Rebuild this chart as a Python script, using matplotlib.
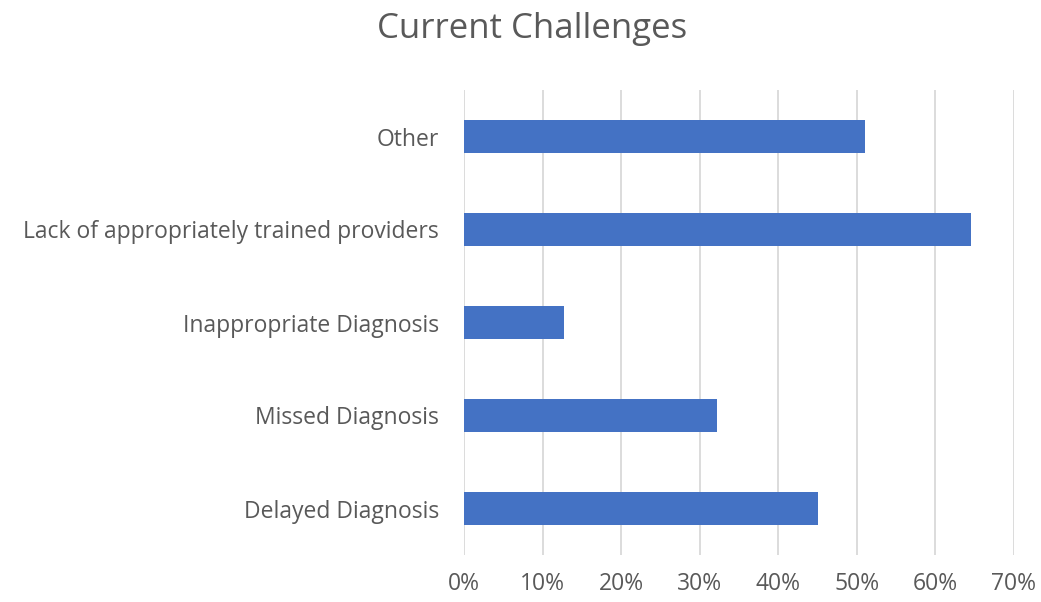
import matplotlib
matplotlib.use('Agg')
import matplotlib.pyplot as plt
from matplotlib.ticker import PercentFormatter

categories = ['Delayed Diagnosis', 'Missed Diagnosis', 'Inappropriate Diagnosis',
              'Lack of appropriately trained providers', 'Other']
values = [45.0, 32.2, 12.7, 64.5, 51.0]
x_ticks = [0, 10, 20, 30, 40, 50, 60, 70]

plt.rcParams['font.family'] = ['Open Sans', 'DejaVu Sans']

fig = plt.figure(figsize=(10.41, 6.02), dpi=100)
ax = fig.add_axes([464 / 1041, 1 - 555 / 602, 550 / 1041, 465 / 602])

y_pos = range(len(categories))
ax.barh(y_pos, values, height=0.35, color='#4472C4', zorder=3)

ax.set_xlim(0, 70)
ax.set_ylim(-0.5, len(categories) - 0.5)
ax.set_xticks(x_ticks)
ax.xaxis.set_major_formatter(PercentFormatter(decimals=0))
ax.set_yticks(list(y_pos))
ax.set_yticklabels(categories)
ax.grid(axis='x', color='#D9D9D9', linewidth=1.3, zorder=0)
for s in ax.spines.values():
    s.set_visible(False)
ax.tick_params(axis='both', length=0, colors='#595959', labelsize=16.5)
ax.tick_params(axis='x', pad=12)
ax.tick_params(axis='y', pad=18)

fig.text(532 / 1041, 1 - 29 / 602, 'Current Challenges', ha='center', va='center',
         fontsize=25, color='#595959')

fig.savefig('out.png', dpi=100)
